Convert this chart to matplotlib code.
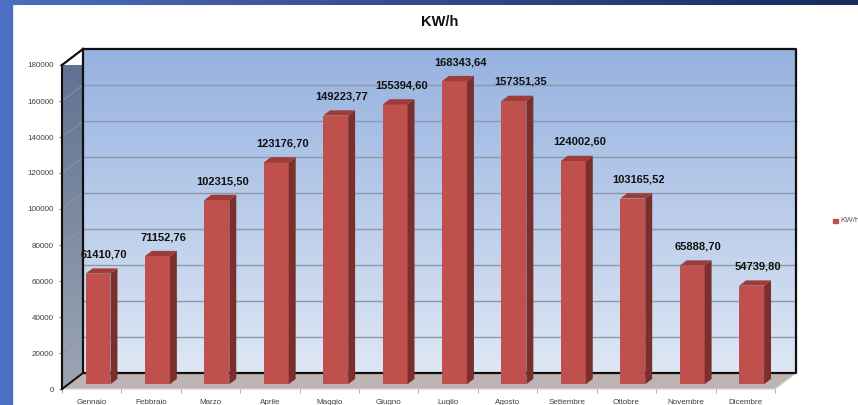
import numpy as np
import matplotlib
matplotlib.use('Agg')
import matplotlib.pyplot as plt
from matplotlib.patches import Polygon, Rectangle
from matplotlib.colors import LinearSegmentedColormap

plt.rcParams['font.family'] = ['Liberation Sans', 'DejaVu Sans']

months = ["Gennaio", "Febbraio", "Marzo", "Aprile", "Maggio", "Giugno",
          "Luglio", "Agosto", "Settembre", "Ottobre", "Novembre", "Dicembre"]
kwh = [61410.70, 71152.76, 102315.50, 123176.70, 149223.77, 155394.60,
       168343.64, 157351.35, 124002.60, 103165.52, 65888.70, 54739.80]
yticks = list(range(0, 180001, 20000))
series_name = "KW/h"

# pseudo 3d depth (category units / value units)
DX = 0.354
DY = 8889
d0, d1 = 0.30, 0.63
bw = 0.42
ymax = 180000
x0, x1 = -0.5, len(months) - 0.5

fig = plt.figure(figsize=(8.58, 4.05), dpi=100)
fig.patch.set_facecolor('white')

# slide background strips
fig.patches.append(Rectangle((0, 0), 12 / 858, 1, transform=fig.transFigure,
                             color='#4e70c2', zorder=0))
bg = fig.add_axes([0, 1 - 5 / 405, 1, 5 / 405])
bg.imshow(np.linspace(0, 1, 256).reshape(1, -1), aspect='auto',
          cmap=LinearSegmentedColormap.from_list('top', ['#4d6cbd', '#1a2a5c']))
bg.axis('off')

ax = fig.add_axes([62 / 858, 16 / 405, 713 / 858, 324 / 405])
ax.set_facecolor('none')

# back wall
wall_cm = LinearSegmentedColormap.from_list('wall', ['#dee7f4', '#96b2e0'])
grad = np.linspace(0, 1, 256).reshape(-1, 1)
ax.imshow(grad, origin='lower', aspect='auto', cmap=wall_cm,
          extent=[x0 + DX, x1 + DX, DY, ymax + DY], zorder=0, clip_on=False)

# left wall
side_cm = LinearSegmentedColormap.from_list('side', ['#9ca5b3', '#5d7091'])
lw_poly = Polygon([(x0, 0), (x0 + DX, DY), (x0 + DX, ymax + DY), (x0, ymax)],
                  closed=True, transform=ax.transData)
im = ax.imshow(grad, origin='lower', aspect='auto', cmap=side_cm,
               extent=[x0, x0 + DX, 0, ymax + DY], zorder=0.5)
im.set_clip_path(lw_poly)

# gridlines
for v in yticks[1:-1]:
    ax.plot([x0 + DX, x1 + DX], [v + DY, v + DY], color='#8d98a8', lw=1.0,
            zorder=1, clip_on=False)
    ax.plot([x0, x0 + DX], [v, v + DY], color='#8f97a3', lw=0.6,
            zorder=1, clip_on=False)

# floor
ax.add_patch(Polygon([(x0, 0), (x1, 0), (x1 + DX, DY), (x0 + DX, DY)],
                     closed=True, facecolor='#bdb3b3', edgecolor='#d4cfcf',
                     lw=0.8, zorder=1.5, clip_on=False))

# wall outlines
ax.plot([x0 + DX, x1 + DX, x1 + DX, x0 + DX, x0 + DX],
        [ymax + DY, ymax + DY, DY, DY, ymax + DY],
        color='#111111', lw=1.6, zorder=2, clip_on=False)
ax.plot([x0, x0 + DX], [ymax, ymax + DY], color='#111111', lw=1.6,
        zorder=2, clip_on=False)
ax.plot([x0, x0 + DX], [0, DY], color='#111111', lw=1.4, zorder=2,
        clip_on=False)

# bars
xs = np.arange(len(months)) + d0 * DX
base = d0 * DY
sx, sy = (d1 - d0) * DX, (d1 - d0) * DY
ax.bar(xs, kwh, width=bw, bottom=base, color='#c0504d', zorder=5,
       clip_on=False)
for xc, v in zip(xs, kwh):
    xl, xr = xc - bw / 2, xc + bw / 2
    top = base + v
    ax.add_patch(Polygon([(xr, base), (xr + sx, base + sy), (xr + sx, top + sy),
                          (xr, top)], closed=True, facecolor='#7b2f2d',
                         edgecolor='none', zorder=5, clip_on=False))
    ax.add_patch(Polygon([(xl, top), (xr, top), (xr + sx, top + sy),
                          (xl + sx, top + sy)], closed=True,
                         facecolor='#9e3c39', edgecolor='none', zorder=5,
                         clip_on=False))
    ax.annotate(f"{v:.2f}".replace('.', ','), xy=(xc, top),
                xytext=(4.5, 13.7), textcoords='offset points',
                ha='center', va='center', fontsize=8, fontweight='bold',
                color='#111111', zorder=6)

ax.set_xlim(x0, x1)
ax.set_ylim(0, ymax)
ax.set_yticks(yticks)
ax.set_yticklabels([str(t) for t in yticks])
ax.set_xticks(range(len(months)))
ax.set_xticklabels(months)
ax.set_xticks(np.arange(x0, x1 + 0.1, 1), minor=True)
ax.tick_params(axis='y', labelsize=5.8, labelcolor='#404040', length=2,
               color='#808080', pad=4)
ax.tick_params(axis='x', which='major', labelsize=5.8, labelcolor='#404040',
               length=0, pad=7)
ax.tick_params(axis='x', which='minor', length=3, color='#a0a0a0')
for s in ['top', 'right', 'bottom']:
    ax.spines[s].set_visible(False)
ax.spines['left'].set_color('#111111')
ax.spines['left'].set_linewidth(1.5)
ax.spines['left'].set_zorder(3)

fig.text(440 / 858, 1 - 22 / 405, series_name, ha='center', va='center',
         fontsize=10.5, fontweight='bold', color='#111111')

# legend
fig.patches.append(Rectangle((833 / 858, (405 - 223) / 405), 5 / 858, 4.5 / 405,
                             transform=fig.transFigure, color='#c0504d'))
fig.text(840 / 858, (405 - 221) / 405, series_name, ha='left', va='center',
         fontsize=5.8, color='#595959')

fig.savefig('out.png', dpi=100)
